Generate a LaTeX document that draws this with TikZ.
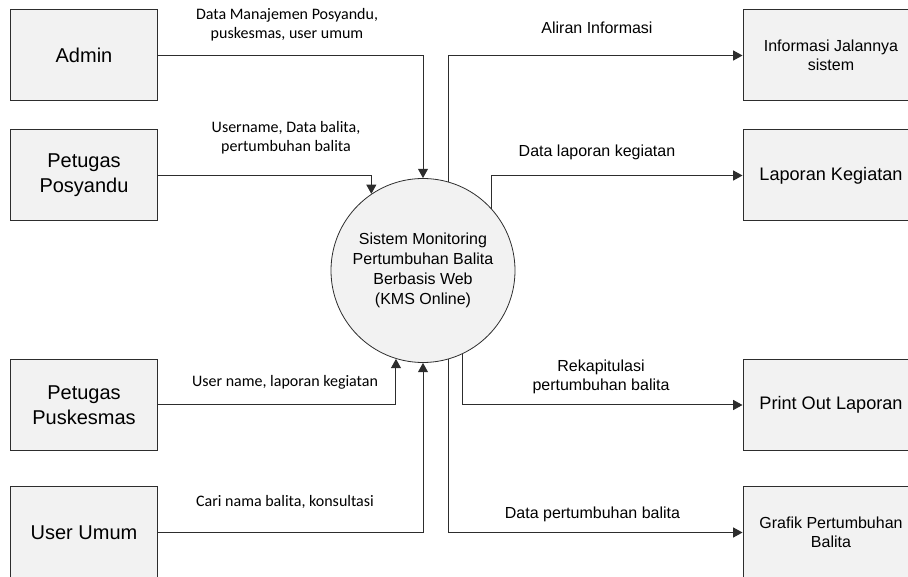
\documentclass[tikz,border=0pt]{standalone}
\usepackage{fontspec}
\setmainfont{Liberation Sans}
\newfontfamily\calibrifont{Carlito}
\usepackage{tikz}
\usetikzlibrary{arrows.meta,positioning}
\definecolor{boxfill}{RGB}{242,242,242}
\definecolor{linegray}{RGB}{45,45,45}

\begin{document}
\begin{tikzpicture}[x=0.75pt,y=-0.75pt,>={Triangle[length=7pt,width=7.5pt]},
        flow/.style={->,draw=linegray,line width=0.75pt},
        main node/.style={rectangle,draw=linegray,fill=boxfill,line width=0.75pt,minimum width=110.25pt,minimum height=68.25pt,inner sep=0pt,align=center,font=\fontsize{15}{18.75}\selectfont},
        out node/.style={main node,minimum width=132pt,font=\fontsize{13.6}{16}\selectfont},
        small node/.style={out node,font=\fontsize{12}{14.4}\selectfont},
        process/.style={circle,draw=linegray,fill=boxfill,line width=0.6pt,minimum size=138pt,inner sep=0pt,align=center,font=\fontsize{12}{15}\selectfont},
        in label/.style={align=center,inner sep=0pt,font=\calibrifont\fontsize{12}{14.6}\selectfont},
        out label/.style={align=center,inner sep=0pt,font=\fontsize{12}{14.25}\selectfont}]

    \useasboundingbox (0,0) rectangle (908,577);
    \clip (0,0) rectangle (908,577);

    % entitas luar
    \node[main node] (1) at (84,55.5) {Admin};
    \node[main node] (2) at (84,175.5) {Petugas\\Posyandu};
    \node[main node] (3) at (84,405) {Petugas\\Puskesmas};
    \node[main node] (4) at (84,532.5) {User Umum};

    \node[process] (5) at (423,270.5) {Sistem Monitoring\\Pertumbuhan Balita\\Berbasis Web\\(KMS Online)};

    \node[small node] (6) at (831,55.5) {Informasi Jalannya\\sistem};
    \node[out node] (7) at (831,175.5) {Laporan Kegiatan};
    \node[out node] (8) at (831,405) {Print Out Laporan};
    \node[small node] (9) at (831,532.5) {Grafik Pertumbuhan\\Balita};

    % aliran masuk
    \draw[flow] (1.east) -| (5.north);
    \draw[flow] (2.east) -| (5.124);
    \draw[flow] (3.east) -| (5.253);
    \draw[flow] (4.east) -| (5.south);

    % aliran keluar
    \draw[flow] (5.74) |- (6.west);
    \draw[flow] (5.42) |- (7.west);
    \draw[flow] (5.295) |- (8.west);
    \draw[flow] (5.286) |- (9.west);

    % label
    \node[in label] (l1) at (287,25) {Data Manajemen Posyandu,\\puskesmas, user umum};
    \node[in label] (l2) at (286,138) {Username, Data balita,\\pertumbuhan balita};
    \node[in label] (l3) at (285,382) {User name, laporan kegiatan};
    \node[in label] (l4) at (285,502) {Cari nama balita, konsultasi};
    \node[out label] (l5) at (597,28) {Aliran Informasi};
    \node[out label] (l6) at (597,152) {Data laporan kegiatan};
    \node[out label] (l7) at (601,377) {Rekapitulasi\\pertumbuhan balita};
    \node[out label] (l8) at (592.5,514) {Data pertumbuhan balita};

\end{tikzpicture}
\end{document}
